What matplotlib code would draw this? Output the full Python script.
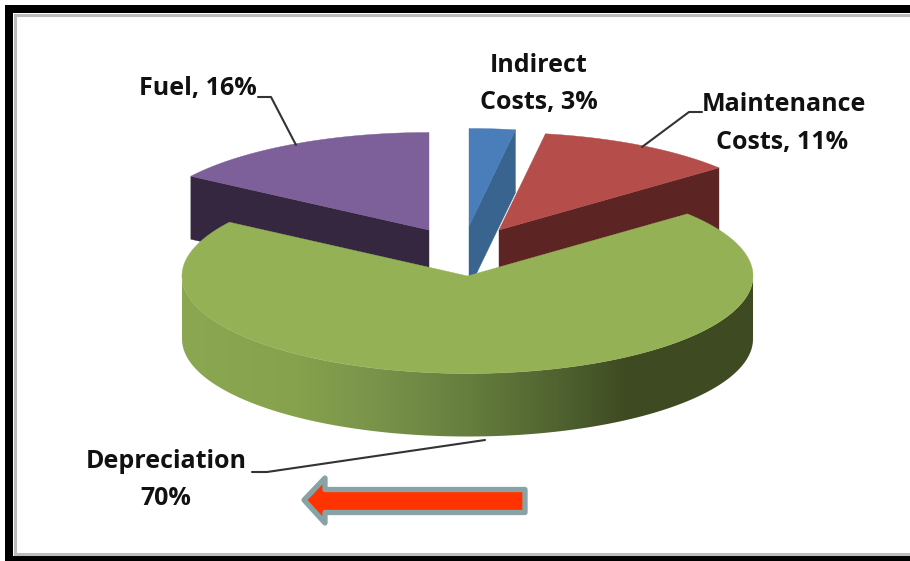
import numpy as np
import matplotlib
matplotlib.use("Agg")
import matplotlib.pyplot as plt
from matplotlib.colors import LinearSegmentedColormap
from matplotlib.patches import Polygon, Rectangle

# data, clockwise from 12 o'clock
categories = ["Indirect Costs", "Maintenance Costs", "Depreciation", "Fuel"]
labels = [["Indirect", "Costs, 3%"], ["Maintenance", "Costs, 11%"], ["Depreciation", "70%"], ["Fuel, 16%"]]
shares = [2.6, 11.4, 70.3, 15.7]

top_colors = ["#4a7ebb", "#b54e4b", "#95b155", "#7d5f9a"]
wall_colors = ["#38648f", "#5c2523", "#3e4a22", "#362741"]
shade_pos = [0.0, 0.2, 0.35, 0.5, 0.68, 0.78, 1.0]
shade_cols = ["#8ca751", "#86a24d", "#78924a", "#667e3e", "#4d5f2e", "#3e4a22", "#3e4a22"]

# pie geometry in pixels
rx = 285.5
ry = 97.5
depth = 63
centers = [(469, 226), (499, 230), (467.5, 276), (429, 230)]
draw_order = [3, 0, 1, 2]

fig = plt.figure(figsize=(9.1, 5.61), dpi=100)
ax = fig.add_axes([0, 0, 1, 1])
ax.set_xlim(0, 910)
ax.set_ylim(561, 0)
ax.axis("off")


def rim(center, a0, a1, n=200):
    t = np.radians(np.linspace(a0, a1, n))
    return np.column_stack([center[0] + rx * np.sin(t), center[1] - ry * np.cos(t)])


# frame, cut off on the right
for box in [(5, 5, 905, 8), (5, 5, 8, 556), (5, 556, 905, 5)]:
    ax.add_patch(Rectangle((box[0], box[1]), box[2], box[3], fc="black", ec="none", zorder=1))
ax.plot([15, 15, 910], [554, 15, 15], color="#bdbdbd", lw=2.2, zorder=1, solid_joinstyle="miter")
ax.plot([15, 910], [554, 554], color="#bdbdbd", lw=2.2, zorder=1)

edges = np.cumsum([0] + shares) * 3.6

for i in draw_order:
    c = centers[i]
    a0, a1 = edges[i], edges[i + 1]
    z = 3 + draw_order.index(i)
    arc = rim(c, a0, a1)
    if i == 2:
        # outer rim with the horizontal shading
        front = rim(c, 90, 270)
        wall = np.vstack([front, (front + [0, depth])[::-1]])
        poly = Polygon(wall, fc="none", ec="none")
        ax.add_patch(poly)
        cmap = LinearSegmentedColormap.from_list("rim", list(zip(shade_pos, shade_cols)))
        im = ax.imshow(np.linspace(0, 1, 512).reshape(1, -1), cmap=cmap, aspect="auto", zorder=z,
                       extent=[c[0] - rx, c[0] + rx, c[1] + ry + depth, c[1]], interpolation="bilinear")
        im.set_clip_path(poly)
        ax.set_xlim(0, 910)
        ax.set_ylim(561, 0)
    else:
        # the cut face that looks at the viewer
        p = arc[0] if i == 3 else arc[-1]
        cut = [p, c, (c[0], c[1] + depth), (p[0], p[1] + depth)]
        ax.add_patch(Polygon(cut, fc=wall_colors[i], ec=wall_colors[i], lw=0.3, zorder=z))
    ax.add_patch(Polygon(np.vstack([[c], arc]), fc=top_colors[i], ec=top_colors[i], lw=0.3, zorder=z))

# leader lines
leader = dict(color="#333333", lw=1.5, zorder=8, solid_capstyle="round")
ax.plot([258, 271, 296], [97, 97, 145], **leader)
ax.plot([702, 689, 642], [112, 112, 147], **leader)
ax.plot([252, 267, 485], [472, 472, 440], **leader)

# labels
txt = dict(family="Open Sans", weight="bold", fontsize=18, color="#111111", ha="center", va="center", zorder=9)
ax.text(539, 65, labels[0][0], **txt)
ax.text(539, 102, labels[0][1], **txt)
ax.text(784, 104, labels[1][0], **txt)
ax.text(782, 142, labels[1][1], **txt)
ax.text(166, 461, labels[2][0], **txt)
ax.text(166, 498, labels[2][1], **txt)
ax.text(198, 88, labels[3][0], **txt)

# block arrow under the chart
arrow = [(304, 500), (325, 478), (325, 489.5), (525, 489.5), (525, 512.5), (325, 512.5), (325, 523)]
ax.add_patch(Polygon(arrow, fc="#ff3300", ec="#88a3a5", lw=3.8, joinstyle="round", zorder=8))

fig.savefig("out.png", dpi=100)
